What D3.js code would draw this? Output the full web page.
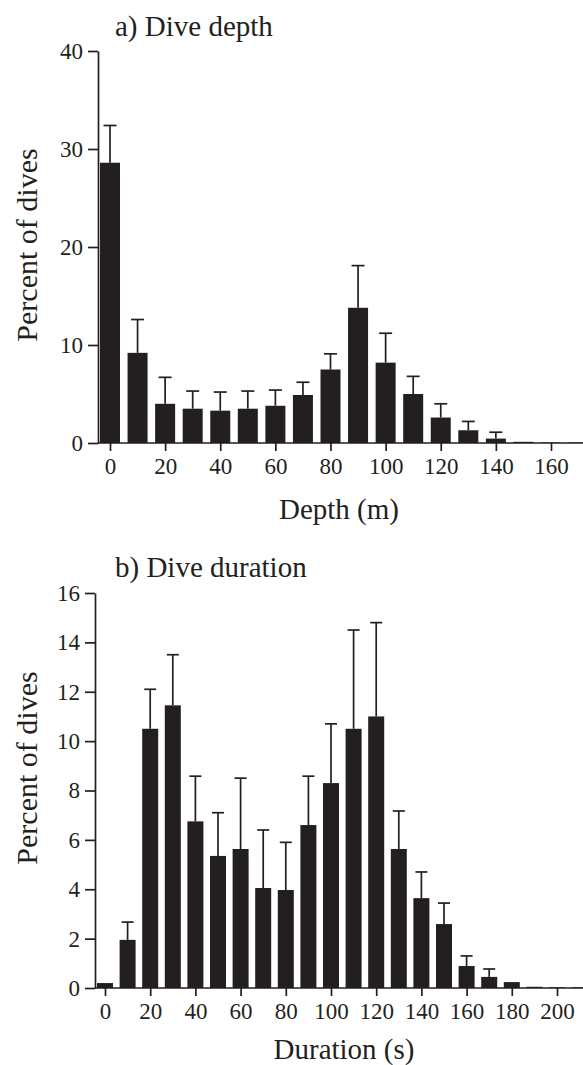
<!DOCTYPE html>
<html>
<head>
<meta charset="utf-8">
<script src="https://cdn.jsdelivr.net/npm/d3@7"></script>
<style>
  body { margin: 0; background: #fff; }
  text { font-family: "Liberation Serif", "Times New Roman", serif; fill: #231f20; }
</style>
</head>
<body>
<svg id="chart"></svg>
<script>
// a) dive depth, bins of 10 m
const depthBins  = [0, 10, 20, 30, 40, 50, 60, 70, 80, 90, 100, 110, 120, 130, 140, 150, 160, 170];
const depthPct   = [28.6, 9.2, 4.0, 3.5, 3.3, 3.5, 3.8, 4.9, 7.5, 13.8, 8.2, 5.0, 2.6, 1.3, 0.45, 0.12, 0.05, 0.05];
const depthSE    = [3.8, 3.4, 2.7, 1.8, 1.9, 1.8, 1.6, 1.3, 1.6, 4.3, 3.0, 1.8, 1.4, 0.9, 0.65, 0, 0, 0];
const depthXTicks = [0, 20, 40, 60, 80, 100, 120, 140, 160];
const depthYTicks = [0, 10, 20, 30, 40];

// b) dive duration, bins of 10 s
const durBins  = [0, 10, 20, 30, 40, 50, 60, 70, 80, 90, 100, 110, 120, 130, 140, 150, 160, 170, 180, 190, 200, 210];
const durPct   = [0.2, 1.95, 10.5, 11.45, 6.75, 5.35, 5.63, 4.05, 3.97, 6.6, 8.3, 10.5, 11.0, 5.63, 3.64, 2.59, 0.89, 0.45, 0.24, 0.05, 0.03, 0.03];
const durSE    = [0, 0.72, 1.6, 2.05, 1.83, 1.75, 2.87, 2.35, 1.93, 1.98, 2.4, 4.0, 3.8, 1.54, 1.06, 0.85, 0.41, 0.32, 0, 0, 0, 0];
const durXTicks = [0, 20, 40, 60, 80, 100, 120, 140, 160, 180, 200];
const durYTicks = [0, 2, 4, 6, 8, 10, 12, 14, 16];

const W = 583, H = 1065;
const ink = '#231f20';

const svg = d3.select('#chart')
    .attr('width', W)
    .attr('height', H);

function drawPanel(p) {
    const x = d3.scaleLinear().domain(p.xDomain).range(p.xRange);
    const y = d3.scaleLinear().domain(p.yDomain).range(p.yRange);
    const g = svg.append('g');

    // bars
    g.selectAll('rect.bar')
        .data(p.bins)
        .join('rect')
        .attr('class', 'bar')
        .attr('x', d => x(d) - p.barWidth / 2)
        .attr('width', p.barWidth)
        .attr('y', (d, i) => y(p.values[i]))
        .attr('height', (d, i) => y(0) - y(p.values[i]))
        .attr('fill', ink);

    // one-sided error bars
    const eb = p.bins.map((d, i) => ({bin: d, v: p.values[i], se: p.se[i]})).filter(d => d.se > 0);
    g.selectAll('line.err')
        .data(eb)
        .join('line')
        .attr('class', 'err')
        .attr('x1', d => x(d.bin)).attr('x2', d => x(d.bin))
        .attr('y1', d => y(d.v)).attr('y2', d => y(d.v + d.se))
        .attr('stroke', ink).attr('stroke-width', 1.7);
    g.selectAll('line.cap')
        .data(eb)
        .join('line')
        .attr('class', 'cap')
        .attr('x1', d => x(d.bin) - p.capWidth / 2).attr('x2', d => x(d.bin) + p.capWidth / 2)
        .attr('y1', d => y(d.v + d.se)).attr('y2', d => y(d.v + d.se))
        .attr('stroke', ink).attr('stroke-width', 1.7);

    // y axis
    const yAxisG = g.append('g')
        .attr('transform', `translate(${p.axisX},0)`)
        .call(d3.axisLeft(y).tickValues(p.yTicks).tickSize(10).tickSizeOuter(0).tickPadding(5));
    // x axis
    const xAxisG = g.append('g')
        .attr('transform', `translate(0,${y(0)})`)
        .call(d3.axisBottom(x).tickValues(p.xTicks).tickSize(8).tickSizeOuter(0).tickPadding(7));
    xAxisG.select('.domain').remove();
    g.append('line')
        .attr('x1', p.axisX).attr('x2', W)
        .attr('y1', y(0)).attr('y2', y(0))
        .attr('stroke', ink).attr('stroke-width', 1.7);

    [yAxisG, xAxisG].forEach(a => {
        a.selectAll('path, line').attr('stroke', ink).attr('stroke-width', 1.7);
        a.selectAll('text').attr('fill', ink).style('font-size', '23px');
    });

    // texts
    g.append('text')
        .attr('x', p.titleX).attr('y', p.titleY)
        .style('font-size', '29px')
        .text(p.title);

    g.append('text')
        .attr('x', p.xLabelX).attr('y', p.xLabelY)
        .attr('text-anchor', 'middle')
        .style('font-size', '29px')
        .text(p.xLabel);

    g.append('text')
        .attr('transform', `translate(${p.yLabelX},${p.yLabelY}) rotate(-90)`)
        .attr('text-anchor', 'middle')
        .style('font-size', '30px')
        .text('Percent of dives');
}

drawPanel({
    bins: depthBins, values: depthPct, se: depthSE,
    xTicks: depthXTicks, yTicks: depthYTicks,
    xDomain: [0, 160], xRange: [110, 551],
    yDomain: [0, 40], yRange: [443, 51],
    axisX: 98, barWidth: 20, capWidth: 13,
    title: 'a) Dive depth', titleX: 115, titleY: 36,
    xLabel: 'Depth (m)', xLabelX: 339, xLabelY: 519,
    yLabelX: 37, yLabelY: 245
});

drawPanel({
    bins: durBins, values: durPct, se: durSE,
    xTicks: durXTicks, yTicks: durYTicks,
    xDomain: [0, 200], xRange: [105, 557],
    yDomain: [0, 16], yRange: [988, 593],
    axisX: 95, barWidth: 16, capWidth: 12,
    title: 'b) Dive duration', titleX: 115, titleY: 577,
    xLabel: 'Duration (s)', xLabelX: 344, xLabelY: 1059,
    yLabelX: 37, yLabelY: 768
});
</script>
</body>
</html>
